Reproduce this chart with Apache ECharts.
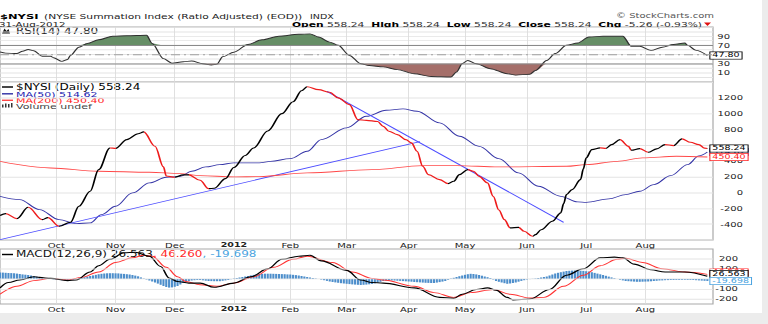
<!DOCTYPE html>
<html>
<head>
<meta charset="utf-8">
<title>$NYSI</title>
<script src="https://cdn.jsdelivr.net/npm/echarts@6/dist/echarts.min.js"></script>
<style>
  html, body { margin: 0; padding: 0; background: #ececec; overflow: hidden; }
  #sheet { position: absolute; left: 0; top: 0; width: 762px; height: 313px; background: #fff; }
  #chart { position: absolute; left: 0; top: 0; width: 768px; transform-origin: 0 0; }
</style>
</head>
<body>
<div id="sheet"></div>
<div id="chart"></div>
<script>
// ---------- trading calendar ----------
const sessionRange = ['2011-09-02', '2012-09-05'];   // two spare sessions pad the right edge
const lastSession = '2012-08-31';
const marketHolidays = ['2011-09-05', '2011-11-24', '2011-12-26', '2012-01-02', '2012-01-16',
  '2012-02-20', '2012-04-06', '2012-05-28', '2012-07-04', '2012-09-03'];
const monthNames = ['Jan', 'Feb', 'Mar', 'Apr', 'May', 'Jun', 'Jul', 'Aug', 'Sep', 'Oct', 'Nov', 'Dec'];

// ---------- NYSE Summation Index (daily close) ----------
const nysi = [
  ['2011-09-02', -291], ['2011-09-07', -266], ['2011-09-13', -329], ['2011-09-19', -186],
  ['2011-09-26', -342], ['2011-09-28', -316], ['2011-10-04', -426], ['2011-10-10', -376],
  ['2011-10-13', -173], ['2011-10-19', 17], ['2011-10-24', 291], ['2011-10-28', 565],
  ['2011-11-01', 560], ['2011-11-07', 671], ['2011-11-11', 745], ['2011-11-15', 768],
  ['2011-11-21', 586], ['2011-11-25', 325], ['2011-11-28', 210], ['2011-12-01', 195],
  ['2011-12-06', 225], ['2011-12-08', 225], ['2011-12-14', 156], ['2011-12-19', 50],
  ['2011-12-21', 55], ['2011-12-28', 177], ['2012-01-03', 317], ['2012-01-09', 470],
  ['2012-01-12', 565], ['2012-01-20', 780], ['2012-01-27', 1000], ['2012-02-02', 1150],
  ['2012-02-07', 1290], ['2012-02-09', 1340], ['2012-02-15', 1304], ['2012-02-22', 1270],
  ['2012-02-27', 1199], ['2012-03-02', 1114], ['2012-03-07', 924], ['2012-03-12', 915],
  ['2012-03-16', 900], ['2012-03-20', 839], ['2012-03-22', 776], ['2012-03-27', 734],
  ['2012-03-30', 671], ['2012-04-03', 629], ['2012-04-05', 523], ['2012-04-10', 333],
  ['2012-04-12', 228], ['2012-04-18', 165], ['2012-04-23', 114], ['2012-04-25', 143],
  ['2012-04-27', 228], ['2012-05-02', 291], ['2012-05-04', 270], ['2012-05-08', 206],
  ['2012-05-11', 123], ['2012-05-15', -47], ['2012-05-17', -220], ['2012-05-21', -342],
  ['2012-05-23', -447], ['2012-05-29', -440], ['2012-05-31', -490], ['2012-06-05', -553],
  ['2012-06-06', -532], ['2012-06-08', -470], ['2012-06-14', -363], ['2012-06-19', -257],
  ['2012-06-20', -140], ['2012-06-21', -25], ['2012-06-25', 38], ['2012-06-28', 165],
  ['2012-06-29', 300], ['2012-07-02', 440], ['2012-07-05', 544], ['2012-07-10', 566],
  ['2012-07-12', 560], ['2012-07-16', 608], ['2012-07-19', 671], ['2012-07-24', 586],
  ['2012-07-25', 536], ['2012-07-30', 557], ['2012-08-02', 510], ['2012-08-07', 553],
  ['2012-08-10', 608], ['2012-08-15', 595], ['2012-08-20', 680], ['2012-08-23', 637],
  ['2012-08-28', 608], ['2012-08-30', 563.50], ['2012-08-31', 558.24]
];

// ---------- moving averages ----------
const ma50 = [
  ['2011-09-02', -47], ['2011-09-14', -89], ['2011-09-23', -215], ['2011-10-04', -342],
  ['2011-10-12', -392], ['2011-10-19', -384], ['2011-10-25', -278], ['2011-11-01', -173],
  ['2011-11-09', -4], ['2011-11-17', 123], ['2011-11-28', 194], ['2011-12-05', 206],
  ['2011-12-09', 270], ['2011-12-16', 325], ['2011-12-23', 354], ['2012-01-03', 376],
  ['2012-01-17', 376], ['2012-01-23', 396], ['2012-02-01', 430], ['2012-02-09', 523],
  ['2012-02-16', 671], ['2012-03-01', 819], ['2012-03-12', 966], ['2012-03-21', 1042],
  ['2012-03-29', 1060], ['2012-04-05', 1030], ['2012-04-18', 882], ['2012-04-27', 713],
  ['2012-05-08', 586], ['2012-05-17', 430], ['2012-05-29', 249], ['2012-06-07', 80],
  ['2012-06-19', -47], ['2012-06-27', -118], ['2012-07-02', -123], ['2012-07-13', -80],
  ['2012-07-23', -25], ['2012-07-30', 17], ['2012-08-06', 101], ['2012-08-14', 215],
  ['2012-08-22', 354], ['2012-08-28', 465], ['2012-08-31', 514.62]
];
const ma200 = [
  ['2011-09-02', 396], ['2011-09-29', 312], ['2011-10-24', 270], ['2011-11-17', 257],
  ['2011-12-05', 241], ['2011-12-14', 215], ['2012-01-03', 199], ['2012-01-17', 203],
  ['2012-02-09', 249], ['2012-03-14', 291], ['2012-04-10', 342], ['2012-04-26', 342],
  ['2012-05-17', 325], ['2012-06-21', 333], ['2012-07-02', 354], ['2012-07-18', 396],
  ['2012-07-31', 439], ['2012-08-16', 460], ['2012-08-31', 450.40]
];

// ---------- hand-drawn trend lines ----------
const trendRising = [['2011-09-02', -595], ['2012-04-09', 646]];
const trendFalling = [['2012-02-21', 1282], ['2012-06-20', -376]];

// ---------- price axis ----------
const priceLabelled = [-400, -200, 0, 200, 400, 800, 1000, 1200];   // 600 sits under the value tags

// ---------- RSI(14) ----------
const rsi14 = [
  ['2011-09-02', 55.5], ['2011-09-07', 53], ['2011-09-13', 52], ['2011-09-15', 57],
  ['2011-09-19', 61], ['2011-09-21', 58], ['2011-09-26', 46], ['2011-09-29', 46],
  ['2011-09-30', 43], ['2011-10-05', 35], ['2011-10-07', 39], ['2011-10-10', 48],
  ['2011-10-13', 66], ['2011-10-18', 74], ['2011-10-24', 82], ['2011-10-31', 90],
  ['2011-11-07', 91], ['2011-11-16', 92], ['2011-11-18', 74], ['2011-11-25', 41],
  ['2011-11-30', 31], ['2011-12-06', 34], ['2011-12-09', 36], ['2011-12-15', 30],
  ['2011-12-20', 27], ['2011-12-22', 29], ['2011-12-27', 45], ['2012-01-03', 55],
  ['2012-01-10', 72], ['2012-01-18', 82], ['2012-01-26', 90], ['2012-02-06', 94],
  ['2012-02-10', 95], ['2012-02-15', 88], ['2012-02-22', 77], ['2012-02-27', 70],
  ['2012-03-02', 48], ['2012-03-08', 30], ['2012-03-13', 26], ['2012-03-20', 23],
  ['2012-03-27', 17], ['2012-04-04', 8], ['2012-04-13', 2], ['2012-04-24', 1],
  ['2012-04-26', 12], ['2012-04-30', 30], ['2012-05-02', 37], ['2012-05-07', 30],
  ['2012-05-14', 19], ['2012-05-22', 8], ['2012-05-25', 5], ['2012-06-04', 7],
  ['2012-06-06', 15], ['2012-06-12', 37], ['2012-06-15', 52], ['2012-06-21', 70],
  ['2012-06-27', 75], ['2012-07-03', 88], ['2012-07-11', 90], ['2012-07-20', 90],
  ['2012-07-25', 68], ['2012-07-30', 68], ['2012-08-03', 59], ['2012-08-09', 66],
  ['2012-08-15', 72], ['2012-08-21', 75], ['2012-08-22', 70], ['2012-08-27', 59],
  ['2012-08-31', 47.80]
];
const rsiLabelled = [10, 30, 70, 90];

// ---------- MACD(12,26,9) ----------
const macdLine = [
  ['2011-09-02', -89], ['2011-09-08', -35], ['2011-09-14', -10], ['2011-09-21', 22],
  ['2011-09-23', 16], ['2011-09-29', 6], ['2011-10-07', -16], ['2011-10-12', -10],
  ['2011-10-19', 70], ['2011-10-24', 133], ['2011-10-28', 197], ['2011-11-04', 262],
  ['2011-11-10', 268], ['2011-11-17', 228], ['2011-11-23', 125], ['2011-11-29', 10],
  ['2011-12-02', -25], ['2011-12-08', -41], ['2011-12-14', -41], ['2011-12-21', -83],
  ['2012-01-03', -41], ['2012-01-11', 22], ['2012-01-20', 102], ['2012-01-27', 197],
  ['2012-02-06', 228], ['2012-02-10', 238], ['2012-02-16', 181], ['2012-03-01', 86],
  ['2012-03-08', -10], ['2012-03-14', -35], ['2012-03-20', -41], ['2012-04-04', -89],
  ['2012-04-18', -184], ['2012-04-25', -193], ['2012-04-30', -152], ['2012-05-07', -105],
  ['2012-05-11', -89], ['2012-05-16', -111], ['2012-05-22', -184], ['2012-05-24', -209],
  ['2012-06-04', -200], ['2012-06-13', -105], ['2012-06-21', 38], ['2012-06-29', 102],
  ['2012-07-10', 212], ['2012-07-17', 219], ['2012-07-20', 212], ['2012-07-26', 149],
  ['2012-08-03', 92], ['2012-08-10', 70], ['2012-08-21', 70], ['2012-08-31', 26.563]
];
const macdSignal = [
  ['2011-09-02', -152], ['2011-09-13', -73], ['2011-09-21', -16], ['2011-09-29', 6],
  ['2011-10-07', -10], ['2011-10-14', 16], ['2011-10-24', 70], ['2011-11-01', 165],
  ['2011-11-09', 212], ['2011-11-15', 238], ['2011-11-18', 228], ['2011-11-28', 117],
  ['2011-12-02', 22], ['2011-12-07', -25], ['2011-12-14', -57], ['2011-12-22', -73],
  ['2012-01-03', -41], ['2012-01-12', 22], ['2012-01-24', 117], ['2012-02-02', 197],
  ['2012-02-09', 228], ['2012-02-23', 165], ['2012-03-05', 70], ['2012-03-14', 6],
  ['2012-03-20', -10], ['2012-04-04', -73], ['2012-04-16', -136], ['2012-04-25', -184],
  ['2012-05-03', -136], ['2012-05-15', -105], ['2012-05-23', -152], ['2012-06-04', -190],
  ['2012-06-11', -184], ['2012-06-20', -73], ['2012-06-29', 38], ['2012-07-10', 133],
  ['2012-07-18', 197], ['2012-07-23', 207], ['2012-07-31', 165], ['2012-08-09', 102],
  ['2012-08-21', 70], ['2012-08-31', 46.260]
];
// one histogram bar per session, 2011-09-02 .. 2012-08-31
const macdHist = [
  65, 64, 62, 61, 59, 57, 54, 50, 46, 43,
  40, 35, 29, 22, 17, 12, 8, 4, 0, -3,
  -6, -9, -12, -15, -14, -12, -7, -1, 5, 11,
  17, 24, 30, 36, 42, 48, 52, 55, 57, 58,
  58, 57, 56, 53, 51, 48, 45, 40, 34, 27,
  16, 5, -5, -15, -25, -35, -46, -58, -70, -80,
  -86, -84, -78, -70, -55, -38, -28, -20, -15, -12,
  -10, -10, -13, -17, -20, -21, -22, -22, -22, -18,
  -14, -10, -2, 5, 10, 15, 20, 25, 30, 36,
  41, 46, 50, 52, 53, 53, 53, 52, 51, 50,
  49, 48, 46, 45, 42, 39, 35, 30, 25, 20,
  15, 10, 5, 0, -6, -12, -19, -25, -30, -34,
  -38, -42, -45, -48, -51, -54, -56, -58, -60, -58,
  -56, -53, -50, -43, -35, -28, -20, -17, -15, -14,
  -15, -17, -19, -21, -23, -25, -27, -30, -32, -34,
  -36, -38, -39, -40, -40, -36, -31, -26, -20, -8,
  5, 12, 20, 28, 35, 42, 48, 52, 50, 46,
  40, 33, 25, 18, 10, -5, -20, -28, -35, -42,
  -48, -45, -40, -35, -27, -19, -12, -5, -1, 2,
  5, 10, 15, 20, 25, 35, 45, 55, 62, 68,
  74, 80, 82, 84, 85, 85, 83, 81, 78, 75,
  68, 61, 54, 47, 40, 32, 24, 16, 8, 0,
  -7, -14, -20, -22, -24, -26, -28, -28, -27, -26,
  -25, -23, -20, -18, -15, -14, -12, -11, -10, -10,
  -9, -9, -8, -8, -9, -9, -10, -12, -14, -16,
  -18, -19.698
];
const macdLabelled = [-200, -100, 100, 200];
const macdGridLevels = [-200, -100, 0, 100, 200];

// ---------- drawing set-up ----------
// The chart is laid out in a taller box and then compressed vertically, which
// gives the short, wide lettering of the StockCharts style.
const K = 0.66;
const sy = v => v / K;
const FONT = "'DejaVu Sans', Verdana, sans-serif";
const C = {
  up: '#000000', down: '#ee1c1c', ma50: '#3434a6', ma200: '#ff4848', trend: '#4c4cff',
  rsiLine: '#303030', rsiHot: '#668e66', rsiCold: '#a56f6a',
  macd: '#000000', signal: '#ff3434', hist: '#4d8ecb', histText: '#4aa3e0',
  grid: '#e3e3e3', frame: '#a9a9a9', text: '#222222'
};

const dom = document.getElementById('chart');
dom.style.height = sy(324) + 'px';
dom.style.transform = 'scaleY(' + K + ')';

function buildSessions() {
  const out = [];
  const d = new Date(sessionRange[0] + 'T00:00:00Z');
  const end = new Date(sessionRange[1] + 'T00:00:00Z');
  while (d <= end) {
    const iso = d.toISOString().slice(0, 10);
    const wd = d.getUTCDay();
    if (wd !== 0 && wd !== 6 && !marketHolidays.includes(iso)) out.push(iso);
    d.setUTCDate(d.getUTCDate() + 1);
  }
  return out;
}
const sessions = buildSessions();
const lastIdx = sessions.indexOf(lastSession);
const isMonthStart = i => i > 0 && i <= lastIdx && sessions[i].slice(5, 7) !== sessions[i - 1].slice(5, 7);
const monthLabel = v => {
  const m = +v.slice(5, 7);
  return m === 1 ? '{yr|' + v.slice(0, 4) + '}' : monthNames[m - 1];
};
const lastOf = arr => arr[arr.length - 1][1];

// colour the index black on rising stretches and red on falling ones
const nysiPieces = [];
for (let k = 0; k < nysi.length - 1; k++) {
  const a = sessions.indexOf(nysi[k][0]);
  const b = sessions.indexOf(nysi[k + 1][0]);
  const piece = { gte: a, color: nysi[k + 1][1] >= nysi[k][1] ? C.up : C.down };
  if (k === nysi.length - 2) piece.lte = b; else piece.lt = b;
  nysiPieces.push(piece);
}

const tag = (color, digits, lift) => ({
  show: true,
  formatter: p => p.value[1].toFixed(digits),
  color: color, backgroundColor: '#ffffff', borderColor: color, borderWidth: 1,
  padding: [0, 2, 0, 2], fontSize: 9.5, fontFamily: FONT, distance: 3,
  offset: [0, -sy(lift || 0)]
});

function xAxisFor(gridIndex, showLabels, margin) {
  return {
    type: 'category', gridIndex: gridIndex, data: sessions, boundaryGap: false,
    axisLine: { show: false }, axisTick: { show: false },
    axisLabel: {
      show: showLabels, interval: i => isMonthStart(i), formatter: monthLabel,
      margin: margin, fontSize: 10, fontFamily: FONT, color: C.text,
      rich: { yr: { fontWeight: 'bold', fontSize: 9.5, fontFamily: FONT, color: C.text } }
    },
    splitLine: { show: true, interval: i => isMonthStart(i), lineStyle: { color: '#d9d9d9', width: 1 } }
  };
}

const gridBase = { left: 0, right: 55, show: true, borderColor: C.frame, borderWidth: 1.2, backgroundColor: 'transparent', outerBoundsMode: 'none' };
const grids = [
  Object.assign({ top: sy(27), height: sy(55) }, gridBase),
  Object.assign({ top: sy(82), height: sy(158) }, gridBase),
  Object.assign({ top: sy(249), height: sy(55) }, gridBase)
];

const yLabel = (margin, formatter) => ({
  align: 'right', margin: margin, fontSize: 10, fontFamily: FONT, color: C.text, formatter: formatter
});

const yAxes = [
  { type: 'value', gridIndex: 0, position: 'right', min: -10, max: 110, interval: 10,
    axisLine: { show: false }, axisTick: { show: false },
    axisLabel: yLabel(17, v => rsiLabelled.includes(v) ? String(v) : ''),
    splitLine: { lineStyle: { color: C.grid, width: 1.4 } } },
  { type: 'value', gridIndex: 1, position: 'right', min: -600, max: 1400, interval: 200,
    axisLine: { show: false }, axisTick: { show: false },
    axisLabel: yLabel(30, v => priceLabelled.includes(v) ? String(v) : ''),
    splitLine: { lineStyle: { color: C.grid, width: 1.4 } } },
  { type: 'value', gridIndex: 2, position: 'right', min: -250, max: 300, interval: 50,
    axisLine: { show: false }, axisTick: { show: false },
    axisLabel: yLabel(25, v => macdLabelled.includes(v) ? String(v) : ''),
    splitLine: { show: false } }
];

const lineBase = { type: 'line', symbol: 'none', silent: true, animation: false, smoothMonotone: 'x' };

const series = [
  // --- RSI panel ---
  Object.assign({}, lineBase, {
    xAxisIndex: 0, yAxisIndex: 0, smooth: 0.3, z: 1,
    data: rsi14.map(([d, v]) => [d, Math.max(v, 70)]),
    lineStyle: { width: 0 }, areaStyle: { origin: 70, color: C.rsiHot, opacity: 1 }
  }),
  Object.assign({}, lineBase, {
    xAxisIndex: 0, yAxisIndex: 0, smooth: 0.3, z: 1,
    data: rsi14.map(([d, v]) => [d, Math.min(v, 30)]),
    lineStyle: { width: 0 }, areaStyle: { origin: 30, color: C.rsiCold, opacity: 1 }
  }),
  Object.assign({}, lineBase, {
    name: 'RSI', xAxisIndex: 0, yAxisIndex: 0, smooth: 0.3, z: 4, data: rsi14,
    lineStyle: { color: C.rsiLine, width: 1.4 },
    endLabel: tag('#000000', 2),
    markLine: {
      silent: true, symbol: 'none', label: { show: false }, animation: false,
      data: [
        { yAxis: 70, lineStyle: { color: '#8a8a8a', width: 1.5, type: 'solid' } },
        { yAxis: 30, lineStyle: { color: '#8a8a8a', width: 1.5, type: 'solid' } },
        { yAxis: 50, lineStyle: { color: '#a0a0a0', width: 1.5, type: [9, 4, 2, 4] } }
      ]
    }
  }),
  // --- price panel ---
  Object.assign({}, lineBase, {
    name: 'MA(50)', xAxisIndex: 1, yAxisIndex: 1, smooth: 0.35, z: 2, data: ma50,
    lineStyle: { color: C.ma50, width: 1.3 }, endLabel: tag(C.ma50, 2)
  }),
  Object.assign({}, lineBase, {
    name: 'MA(200)', xAxisIndex: 1, yAxisIndex: 1, smooth: 0.35, z: 3, data: ma200,
    lineStyle: { color: C.ma200, width: 1.3 }, endLabel: tag('#ff2020', 2)
  }),
  Object.assign({}, lineBase, {
    xAxisIndex: 1, yAxisIndex: 1, z: 2, data: trendRising,
    lineStyle: { color: C.trend, width: 1.3 }
  }),
  Object.assign({}, lineBase, {
    xAxisIndex: 1, yAxisIndex: 1, z: 2, data: trendFalling,
    lineStyle: { color: C.trend, width: 1.3 }
  }),
  Object.assign({}, lineBase, {
    name: '$NYSI', xAxisIndex: 1, yAxisIndex: 1, smooth: 0.35, z: 5, data: nysi,
    lineStyle: { width: 1.7 }, endLabel: tag('#000000', 2)
  }),
  // --- MACD panel ---
  {
    type: 'bar', xAxisIndex: 2, yAxisIndex: 2, silent: true, animation: false, z: 1,
    data: macdHist.map((v, i) => [sessions[i], v]),
    barWidth: 2.1, itemStyle: { color: C.hist },
    markLine: {
      silent: true, symbol: 'none', label: { show: false }, animation: false,
      lineStyle: { color: C.grid, width: 1.4, type: 'solid' },
      data: macdGridLevels.map(v => ({ yAxis: v }))
    }
  },
  Object.assign({}, lineBase, {
    name: 'signal', xAxisIndex: 2, yAxisIndex: 2, smooth: 0.35, z: 3, data: macdSignal,
    lineStyle: { color: C.signal, width: 1.4 }, endLabel: tag('#ff2020', 3, 2)
  }),
  Object.assign({}, lineBase, {
    name: 'MACD', xAxisIndex: 2, yAxisIndex: 2, smooth: 0.35, z: 4, data: macdLine,
    lineStyle: { color: C.macd, width: 1.6 }, endLabel: tag('#000000', 3, 2.3)
  }),
  // histogram value tag
  Object.assign({}, lineBase, {
    xAxisIndex: 2, yAxisIndex: 2, z: 6, data: macdHist.map((v, i) => [sessions[i], v]),
    lineStyle: { opacity: 0, width: 0 }, endLabel: tag(C.histText, 3)
  })
];
const nysiSeriesIndex = series.findIndex(s => s.name === '$NYSI');

// ---------- header, legends ----------
const close = lastOf(nysi);
const prevClose = nysi[nysi.length - 2][1];
const chg = close - prevClose;
const pct = chg / prevClose * 100;
const f2 = v => v.toFixed(2);

const txt = (x, y, text, size, fill, extra) => ({
  type: 'text', x: x, y: sy(y), silent: true,
  style: Object.assign({ text: text, font: size + 'px ' + FONT, fill: fill, textVerticalAlign: 'middle' }, extra || {})
});
const legendLine = (y, color) => ({
  type: 'line', silent: true, shape: { x1: 2, y1: sy(y), x2: 13, y2: sy(y) },
  style: { stroke: color, lineWidth: 2.2 }
});

const graphics = [
  txt(0, 16.6, '$NYSI', 11.5, '#000', { font: 'bold 11.5px ' + FONT }),
  txt(44, 16.6, '(NYSE Summation Index (Ratio Adjusted) (EOD))', 10.7, C.text),
  txt(310, 17, 'INDX', 9.5, C.text),
  txt(714, 15.6, '\u00a9 StockCharts.com', 10, '#555', { textAlign: 'right' }),
  txt(-1, 24.3, '31-Aug-2012', 10.3, C.text),
  {
    type: 'text', x: 702, y: sy(24.3), silent: true,
    style: {
      text: '{b|Open} ' + f2(close) + '  {b|High} ' + f2(close) + '  {b|Low} ' + f2(close) +
            '  {b|Close} ' + f2(close) + '  {b|Chg} ' + f2(chg) + ' (' + f2(pct) + '%)',
      font: '10.7px ' + FONT, fill: '#333', textAlign: 'right', textVerticalAlign: 'middle',
      rich: { b: { font: 'bold 10.7px ' + FONT, fill: '#000' } }
    }
  },
  { type: 'polygon', silent: true, shape: { points: [[704, sy(22.6)], [711, sy(22.6)], [707.5, sy(26)]] }, style: { fill: '#e01010' } },

  // RSI legend
  { type: 'polygon', silent: true, shape: { points: [[2, sy(33.5)], [4.5, sy(28.5)], [6.5, sy(31)], [8.5, sy(29)], [10, sy(33.5)]] }, style: { fill: '#111' } },
  txt(16, 31, 'RSI(14) ' + f2(lastOf(rsi14)), 12, C.text),

  // price legend
  legendLine(87, '#000'),
  txt(16, 87, '$NYSI (Daily) ' + f2(close), 12, '#000'),
  legendLine(93.8, C.ma50),
  txt(16, 93.8, 'MA(50) ' + f2(lastOf(ma50)), 11, '#2424b0'),
  legendLine(100.3, C.ma200),
  txt(16, 100.3, 'MA(200) ' + f2(lastOf(ma200)), 11, '#ff1c1c'),
  { type: 'rect', silent: true, shape: { x: 2, y: sy(104.5), width: 1.5, height: sy(3) }, style: { fill: '#333' } },
  { type: 'rect', silent: true, shape: { x: 5, y: sy(103.5), width: 1.5, height: sy(4) }, style: { fill: '#333' } },
  { type: 'rect', silent: true, shape: { x: 8, y: sy(104), width: 1.5, height: sy(3.5) }, style: { fill: '#333' } },
  { type: 'rect', silent: true, shape: { x: 11, y: sy(103), width: 1.5, height: sy(4.5) }, style: { fill: '#333' } },
  txt(16, 106.3, 'Volume undef', 11, '#444'),

  // MACD legend
  legendLine(254.5, '#000'),
  {
    type: 'text', x: 16, y: sy(254.5), silent: true,
    style: {
      text: 'MACD(12,26,9) ' + lastOf(macdLine).toFixed(3) + '{r|, ' + lastOf(macdSignal).toFixed(3) +
            '}{h|, ' + macdHist[macdHist.length - 1].toFixed(3) + '}',
      font: '12px ' + FONT, fill: '#111', textVerticalAlign: 'middle',
      rich: { r: { font: '12px ' + FONT, fill: '#ff2a2a' }, h: { font: '12px ' + FONT, fill: C.histText } }
    }
  }
];

const chart = echarts.init(dom, null, { renderer: 'svg' });
chart.setOption({
  animation: false,
  backgroundColor: 'transparent',
  grid: grids,
  xAxis: [xAxisFor(0, false, 0), xAxisFor(1, true, 3), xAxisFor(2, true, 3)],
  yAxis: yAxes,
  visualMap: [{
    type: 'piecewise', show: false, dimension: 0, seriesIndex: nysiSeriesIndex,
    pieces: nysiPieces, outOfRange: { color: C.up }
  }],
  series: series,
  graphic: graphics
});
</script>
</body>
</html>
